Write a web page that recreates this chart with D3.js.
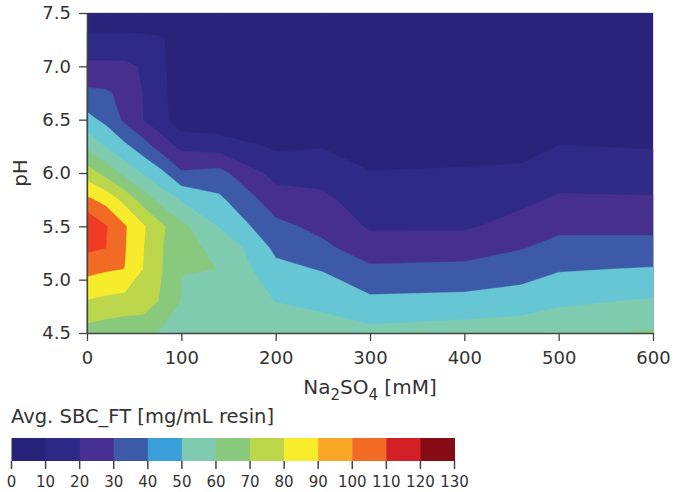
<!DOCTYPE html>
<html>
<head>
<meta charset="utf-8">
<script src="https://cdn.jsdelivr.net/npm/d3@7"></script>
<style>
  body { margin: 0; background: #fff; }
  text { font-family: "DejaVu Sans", Verdana, sans-serif; fill: #333; }
</style>
</head>
<body>
<svg id="chart" width="686" height="492"></svg>
<script>
// measurement grid: Na2SO4 columns and pH rows
var naSO4 = [0, 20, 40, 60, 80, 100, 140, 200, 250, 300, 400, 460, 500, 600];
var pH = [4.5, 4.8, 5.1, 5.3, 5.5, 5.75, 6.0, 6.25, 6.5, 6.75, 7.0, 7.25, 7.5];

// Avg. SBC_FT, one row per pH (bottom to top), one value per Na2SO4 column
var sbc = [
  [66, 64, 62.7, 62.5, 58, 56, 55, 55, 55, 52.9, 55, 56, 57, 61.4],
  [79.5, 77.7, 76.4, 75.5, 68.5, 59.6, 57, 49.8, 47.2, 42.1, 43.2, 44.8, 48.2, 51],
  [93.2, 91.1, 89.9, 79.6, 70.1, 60.1, 59.99, 42.6, 39.3, 31.7, 31.9, 35.3, 39.1, 40.7],
  [102.3, 100.1, 90.6, 80.2, 70.3, 61.5, 58.8, 37.7, 32.1, 24.6, 26.5, 29.4, 33, 33.6],
  [109.5, 100.7, 91.0, 81.0, 71.4, 62.6, 49.4, 32.6, 27.2, 18.8, 18.5, 23.9, 27.8, 27.4],
  [92.1, 86.7, 76.9, 65.5, 55.9, 49.2, 42, 24.8, 22.2, 14.7, 14.8, 17.7, 21.3, 21],
  [75, 66.7, 56.9, 49, 41.7, 31.3, 33, 16.5, 16.2, 10.5, 11.3, 12.3, 15.8, 15.1],
  [58, 49.4, 42.2, 34.2, 25, 17.5, 15.9, 8.5, 9.5, 5, 5.5, 6, 10.3, 9.4],
  [43.2, 37.5, 28, 19.8, 13, 4, 3, 3, 3, 2.5, 2.5, 3, 5, 4],
  [32, 31.3, 27.5, 19.5, 12.5, 3, 2, 1.5, 1.5, 1.5, 1.5, 1.5, 2, 2],
  [22.3, 22.3, 22, 19, 12, 2, 1.5, 1, 1, 1, 1, 1, 1, 1],
  [12.4, 12.4, 12.4, 12, 11, 1.5, 1, 0.8, 0.8, 0.7, 0.7, 0.7, 0.7, 0.7],
  [3, 3, 3, 3, 3, 1, 1, 0.5, 0.5, 0.5, 0.5, 0.5, 0.5, 0.5]
];

var levels = [0, 10, 20, 30, 40, 50, 60, 70, 80, 90, 100];
var fillColors = ["#29247a", "#2e2a85", "#472f8f", "#3d5aa8", "#66c6d4", "#7fcbb0",
                  "#88c97e", "#bcd64b", "#f7ec2c", "#f26b24", "#ef3b24"];

var legendTicks = [0, 10, 20, 30, 40, 50, 60, 70, 80, 90, 100, 110, 120, 130];
var legendColors = ["#28237a", "#2e2986", "#462f90", "#3d5aa8", "#3a9ed8", "#80cbb0", "#88c97d",
                    "#bcd64a", "#f8ec2c", "#f9a627", "#f26b24", "#d31f26", "#870b12"];

var xTicks = [0, 100, 200, 300, 400, 500, 600];
var yTicks = [4.5, 5.0, 5.5, 6.0, 6.5, 7.0, 7.5];

var svg = d3.select("#chart");

var x = d3.scaleLinear().domain([0, 600]).range([87, 653]);
var y = d3.scaleLinear().domain([4.5, 7.5]).range([333, 13]);

// contour grid index -> data value (grid points sit at index + 0.5)
var colIdx = d3.scaleLinear().domain(naSO4.map(function(d, i) { return i + 0.5; })).range(naSO4).clamp(true);
var rowIdx = d3.scaleLinear().domain(pH.map(function(d, i) { return i + 0.5; })).range(pH).clamp(true);

var proj = d3.geoTransform({
  point: function(px, py) {
    this.stream.point(x(colIdx(px)), y(rowIdx(py)));
  }
});
var path = d3.geoPath(proj);

var flat = [];
sbc.forEach(function(row) { row.forEach(function(v) { flat.push(v); }); });

var contours = d3.contours()
  .size([naSO4.length, pH.length])
  .thresholds(levels)(flat);

svg.append("g")
  .selectAll("path")
  .data(contours)
  .enter().append("path")
  .attr("d", path)
  .attr("fill", function(d, i) { return fillColors[i]; })
  .attr("fill-rule", "evenodd")
  .attr("stroke", function(d, i) { return fillColors[i]; })
  .attr("stroke-width", 0.3);

// axes
var xAxis = d3.axisBottom(x).tickValues(xTicks).tickSize(8).tickSizeOuter(0).tickPadding(10);
var yAxis = d3.axisLeft(y).tickValues(yTicks).tickSize(8).tickSizeOuter(0).tickPadding(8)
  .tickFormat(d3.format(".1f"));

svg.append("g")
  .attr("transform", "translate(0,333)")
  .call(xAxis)
  .call(styleAxis);

svg.append("g")
  .attr("transform", "translate(87,0)")
  .call(yAxis)
  .call(styleAxis);

function styleAxis(g) {
  g.select(".domain").attr("stroke", "#444").attr("stroke-width", 1.3);
  g.selectAll(".tick line").attr("stroke", "#444").attr("stroke-width", 1.3);
  g.selectAll(".tick text")
    .style("font-family", "'DejaVu Sans', Verdana, sans-serif")
    .style("font-size", "18px")
    .attr("fill", "#333");
}

// axis titles
var xTitle = svg.append("text")
  .attr("x", 370)
  .attr("y", 394)
  .attr("text-anchor", "middle")
  .style("font-size", "20px");
xTitle.append("tspan").text("Na");
xTitle.append("tspan").text("2").attr("dy", 6).style("font-size", "15px");
xTitle.append("tspan").text("SO").attr("dy", -6);
xTitle.append("tspan").text("4").attr("dy", 6).style("font-size", "15px");
xTitle.append("tspan").text(" [mM]").attr("dy", -6);

svg.append("text")
  .attr("transform", "translate(27,173) rotate(-90)")
  .attr("text-anchor", "middle")
  .style("font-size", "20px")
  .text("pH");

// colour legend
var lg = d3.scaleLinear().domain([0, 130]).range([11.5, 454.5]);

svg.append("text")
  .attr("x", 11)
  .attr("y", 423)
  .style("font-size", "19.5px")
  .text("Avg. SBC_FT [mg/mL resin]");

svg.append("g")
  .selectAll("rect")
  .data(legendColors)
  .enter().append("rect")
  .attr("x", function(d, i) { return lg(legendTicks[i]); })
  .attr("width", function(d, i) { return lg(legendTicks[i + 1]) - lg(legendTicks[i]) + 0.5; })
  .attr("y", 438)
  .attr("height", 23)
  .attr("fill", function(d) { return d; });

var lt = svg.append("g")
  .selectAll("g")
  .data(legendTicks)
  .enter().append("g")
  .attr("transform", function(d) { return "translate(" + lg(d) + ",0)"; });

lt.append("line")
  .attr("y1", 461)
  .attr("y2", 469)
  .attr("stroke", "#444")
  .attr("stroke-width", 1.5);

lt.append("text")
  .attr("y", 487)
  .attr("text-anchor", "middle")
  .style("font-size", "15px")
  .text(function(d) { return d; });
</script>
</body>
</html>
